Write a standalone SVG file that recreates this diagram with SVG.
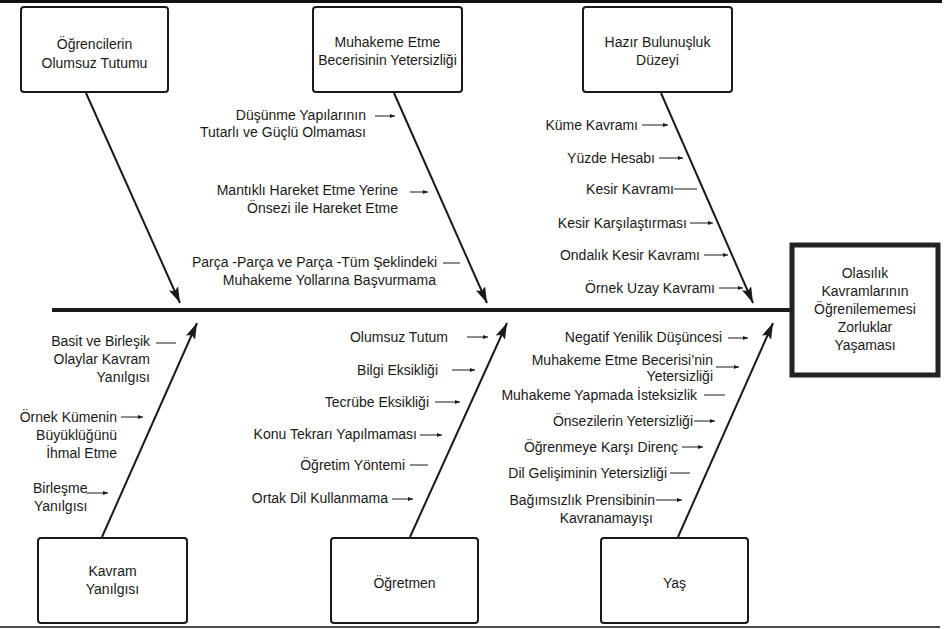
<svg xmlns="http://www.w3.org/2000/svg" width="947" height="629" viewBox="0 0 947 629">
<style>
text{font-family:"Liberation Sans",Arial,sans-serif;font-size:14px;fill:#1a1a1a}
.box{fill:#fff;stroke:#1a1a1a;stroke-width:2}
.main{fill:#fff;stroke:#222;stroke-width:5}
.bone{stroke:#1a1a1a;stroke-width:2;fill:none}
.sub{stroke:#1a1a1a;stroke-width:1;fill:none}
.c{text-anchor:middle}
.e{text-anchor:end}
</style>
<defs>
<marker id="big" markerUnits="userSpaceOnUse" markerWidth="18" markerHeight="10" refX="16" refY="5" orient="auto">
<path d="M0,0 L16,5 L0,10 L3,5 Z" fill="#1a1a1a"/>
</marker>
<marker id="sm" markerUnits="userSpaceOnUse" markerWidth="6" markerHeight="4" refX="5" refY="2" orient="auto">
<path d="M0,0 L5,2 L0,4 Z" fill="#1a1a1a"/>
</marker>
</defs>
<rect x="0" y="0" width="942" height="3" fill="#111"/>
<line x1="0" y1="627" x2="940" y2="627" stroke="#111" stroke-width="1.5"/>

<g id="connectors">
<line x1="52" y1="310" x2="790" y2="310" stroke="#1a1a1a" stroke-width="4"/>
<line class="bone" x1="86" y1="93" x2="180" y2="303" marker-end="url(#big)"/>
<line class="bone" x1="394" y1="93" x2="487" y2="303" marker-end="url(#big)"/>
<line class="bone" x1="661" y1="93" x2="753" y2="303" marker-end="url(#big)"/>
<line class="bone" x1="102" y1="537" x2="197" y2="323" marker-end="url(#big)"/>
<line class="bone" x1="410" y1="537" x2="507" y2="323" marker-end="url(#big)"/>
<line class="bone" x1="678" y1="537" x2="773" y2="323" marker-end="url(#big)"/>

<line class="sub" x1="375" y1="116" x2="395" y2="116" marker-end="url(#sm)"/>
<line class="sub" x1="410" y1="192" x2="428" y2="192" marker-end="url(#sm)"/>
<line class="sub" x1="443" y1="263" x2="460" y2="263"/>

<line class="sub" x1="642" y1="125" x2="668" y2="125" marker-end="url(#sm)"/>
<line class="sub" x1="659" y1="158" x2="683" y2="158" marker-end="url(#sm)"/>
<line class="sub" x1="674" y1="189" x2="697" y2="189" stroke-width="1.5"/>
<line class="sub" x1="690" y1="223" x2="713" y2="223" marker-end="url(#sm)"/>
<line class="sub" x1="704" y1="255" x2="728" y2="255" marker-end="url(#sm)"/>
<line class="sub" x1="719" y1="288" x2="743" y2="288" marker-end="url(#sm)"/>

<line class="sub" x1="156" y1="343" x2="176" y2="343" stroke-width="1.5"/>
<line class="sub" x1="121" y1="417" x2="143" y2="417" marker-end="url(#sm)"/>
<line class="sub" x1="86" y1="493" x2="108" y2="493" marker-end="url(#sm)"/>

<line class="sub" x1="467" y1="337" x2="488" y2="337" marker-end="url(#sm)"/>
<line class="sub" x1="452" y1="370" x2="475" y2="370" marker-end="url(#sm)"/>
<line class="sub" x1="435" y1="402" x2="460" y2="402" marker-end="url(#sm)"/>
<line class="sub" x1="420" y1="435" x2="442" y2="435" marker-end="url(#sm)"/>
<line class="sub" x1="410" y1="465" x2="428" y2="465" stroke-width="1.5"/>
<line class="sub" x1="392" y1="499" x2="413" y2="499" marker-end="url(#sm)"/>

<line class="sub" x1="728" y1="338" x2="748" y2="338" marker-end="url(#sm)"/>
<line class="sub" x1="716" y1="367" x2="739" y2="367" marker-end="url(#sm)"/>
<line class="sub" x1="704" y1="395" x2="725" y2="395" stroke-width="1.5"/>
<line class="sub" x1="694" y1="421" x2="715" y2="421" marker-end="url(#sm)"/>
<line class="sub" x1="682" y1="447" x2="703" y2="447" marker-end="url(#sm)"/>
<line class="sub" x1="670" y1="473" x2="690" y2="473" stroke-width="1.5"/>
<line class="sub" x1="656" y1="500" x2="682" y2="500" marker-end="url(#sm)"/>
</g>

<g id="n-ogrenci">
<rect class="box" x="21" y="7" width="147" height="85" rx="3"/>
<text class="c" x="94.5" y="49">Öğrencilerin</text>
<text class="c" x="94.5" y="68">Olumsuz Tutumu</text>
</g>
<g id="n-muhakeme">
<rect class="box" x="313" y="7" width="149" height="85" rx="3"/>
<text class="c" x="387.5" y="47">Muhakeme Etme</text>
<text class="c" x="387.5" y="65">Becerisinin Yetersizliği</text>
</g>
<g id="n-hazir">
<rect class="box" x="583" y="7" width="149" height="85" rx="3"/>
<text class="c" x="657.5" y="47">Hazır Bulunuşluk</text>
<text class="c" x="657.5" y="65">Düzeyi</text>
</g>
<g id="n-sonuc">
<rect class="main" x="792" y="245" width="146" height="130"/>
<text class="c" x="865" y="278">Olasılık</text>
<text class="c" x="865" y="296">Kavramlarının</text>
<text class="c" x="865" y="314">Öğrenilememesi</text>
<text class="c" x="865" y="332">Zorluklar</text>
<text class="c" x="865" y="350">Yaşaması</text>
</g>
<g id="n-kavram">
<rect class="box" x="38" y="538" width="149" height="85" rx="3"/>
<text class="c" x="112.5" y="576">Kavram</text>
<text class="c" x="112.5" y="594">Yanılgısı</text>
</g>
<g id="n-ogretmen">
<rect class="box" x="331" y="538" width="147" height="85" rx="3"/>
<text class="c" x="404.5" y="588">Öğretmen</text>
</g>
<g id="n-yas">
<rect class="box" x="601" y="538" width="147" height="85" rx="3"/>
<text class="c" x="674.5" y="588">Yaş</text>
</g>

<g id="labels-muhakeme">
<text class="e" x="366" y="120">Düşünme Yapılarının</text>
<text class="e" x="366" y="137">Tutarlı ve Güçlü Olmaması</text>
<text class="e" x="398" y="195">Mantıklı Hareket Etme Yerine</text>
<text class="e" x="398" y="213">Önsezi ile Hareket Etme</text>
<text class="e" x="437" y="267">Parça -Parça ve Parça -Tüm Şeklindeki</text>
<text class="e" x="436" y="285">Muhakeme Yollarına Başvurmama</text>
</g>
<g id="labels-hazir">
<text class="e" x="638" y="130">Küme Kavramı</text>
<text class="e" x="655" y="163">Yüzde Hesabı</text>
<text class="e" x="674" y="194">Kesir Kavramı</text>
<text class="e" x="687" y="228">Kesir Karşılaştırması</text>
<text class="e" x="700" y="260">Ondalık Kesir Kavramı</text>
<text class="e" x="715" y="293">Örnek Uzay Kavramı</text>
</g>
<g id="labels-kavram">
<text class="e" x="150" y="346">Basit ve Birleşik</text>
<text class="e" x="150" y="364">Olaylar Kavram</text>
<text class="e" x="150" y="382">Yanılgısı</text>
<text class="e" x="117" y="422">Örnek Kümenin</text>
<text class="e" x="117" y="440">Büyüklüğünü</text>
<text class="e" x="117" y="458">İhmal Etme</text>
<text x="33" y="493">Birleşme</text>
<text x="34" y="511">Yanılgısı</text>
</g>
<g id="labels-ogretmen">
<text class="e" x="448" y="342">Olumsuz Tutum</text>
<text class="e" x="438" y="375">Bilgi Eksikliği</text>
<text class="e" x="429" y="407">Tecrübe Eksikliği</text>
<text class="e" x="417" y="439">Konu Tekrarı Yapılmaması</text>
<text class="e" x="405" y="470">Öğretim Yöntemi</text>
<text class="e" x="388" y="503">Ortak Dil Kullanmama</text>
</g>
<g id="labels-yas">
<text class="e" x="722" y="342">Negatif Yenilik Düşüncesi</text>
<text class="e" x="713" y="365">Muhakeme Etme Becerisi’nin</text>
<text class="e" x="713" y="381">Yetersizliği</text>
<text class="e" x="697" y="400">Muhakeme Yapmada İsteksizlik</text>
<text class="e" x="693" y="426">Önsezilerin Yetersizliği</text>
<text class="e" x="678" y="452">Öğrenmeye Karşı Direnç</text>
<text class="e" x="667" y="478">Dil Gelişiminin Yetersizliği</text>
<text class="e" x="655" y="505">Bağımsızlık Prensibinin</text>
<text class="e" x="653" y="523">Kavranamayışı</text>
</g>
</svg>
